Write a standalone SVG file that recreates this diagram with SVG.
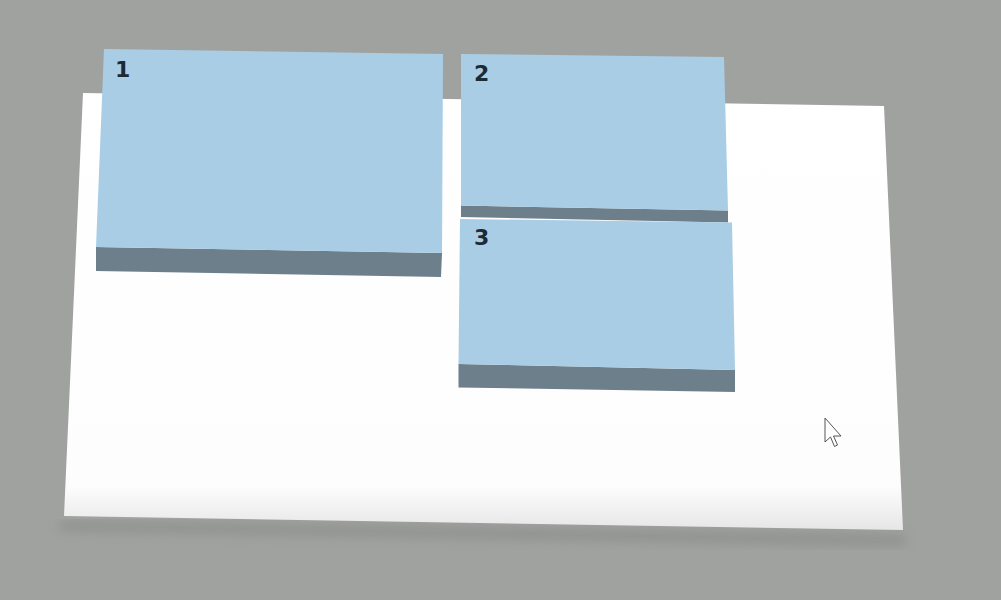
<svg xmlns="http://www.w3.org/2000/svg" width="1001" height="600" viewBox="0 0 1001 600">
<style>
.top{fill:#aacde6}
.side{fill:#6c7f8b}
.lbl{font-family:"DejaVu Sans",sans-serif;font-weight:bold;font-size:22px;fill:#1d2a35}
</style>
<defs>
<linearGradient id="boardGrad" x1="0" y1="0" x2="0" y2="1">
<stop offset="0" stop-color="#ffffff"/>
<stop offset="0.9" stop-color="#fdfdfd"/>
<stop offset="1" stop-color="#e6e6e6"/>
</linearGradient>
<filter id="blur" x="-10%" y="-10%" width="120%" height="130%">
<feGaussianBlur stdDeviation="6"/>
</filter>
</defs>
<rect width="1001" height="600" fill="#a0a29f"/>
<g id="board">
<path d="M60,522 L905,536 L905,545 L60,530 Z" fill="#7f817e" opacity="0.6" filter="url(#blur)"/>
<path d="M83,93 L884,106 L903,530 L64,516 Z" fill="url(#boardGrad)"/>
</g>
<g id="node1">
<path class="side" d="M96,247 L442,253 L441,277 L96,271 Z"/>
<path class="top" d="M104,49 L443,54 L442,253 L96,247 Z"/>
<text class="lbl" x="115" y="77">1</text>
</g>
<g id="node2">
<path class="side" d="M461,205.5 L728,210.5 L728,222.5 L461,217 Z"/>
<path class="top" d="M461,54 L724,57 L728,210.5 L461,205.5 Z"/>
<text class="lbl" x="474" y="81">2</text>
</g>
<g id="node3">
<path class="side" d="M458.5,364 L735,370 L735,392 L458.5,387.5 Z"/>
<path class="top" d="M460,219 L732,222.5 L735,370 L458.5,364 Z"/>
<text class="lbl" x="474" y="245">3</text>
</g>
<g id="connectors"></g>
<g id="cursor">
<path d="M825,418 L825,442 L830.5,437 L834.5,446.5 L837.5,445 L833.5,436 L841,436 Z" fill="#ffffff" stroke="#555" stroke-width="1" stroke-linejoin="round"/>
</g>
</svg>
